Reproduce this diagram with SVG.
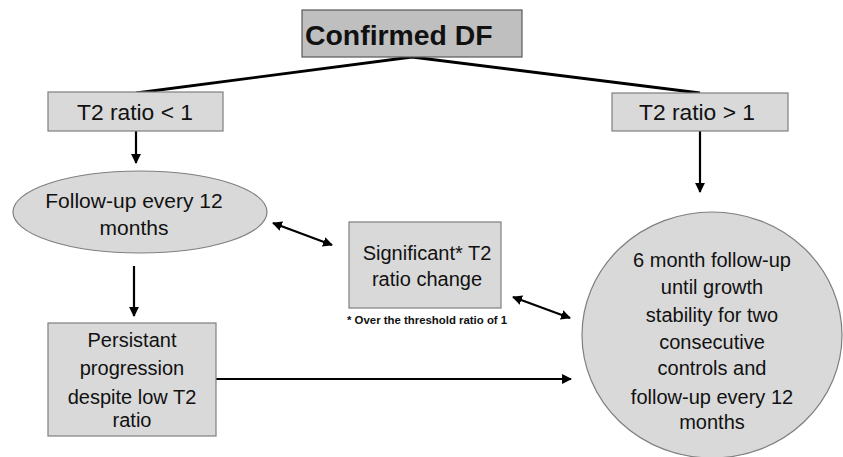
<svg xmlns="http://www.w3.org/2000/svg" width="843" height="457" viewBox="0 0 843 457">
<style>
.box{fill:#d9d9d9;stroke:#7f7f7f;stroke-width:1.2}
.dark{fill:#bfbfbf;stroke:#595959;stroke-width:1.2}
.t{font-family:"Liberation Sans",Arial,sans-serif;font-size:20px;fill:#111;text-anchor:middle}
.c{fill:none;stroke:#000;stroke-width:2.2}
.top{fill:none;stroke:#000;stroke-width:2.8}
</style>
<defs>
<marker id="ah" viewBox="0 0 10 10" refX="9" refY="5" markerWidth="4.5" markerHeight="4.5" orient="auto-start-reverse">
<path d="M0,0 L10,5 L0,10 z" fill="#000"/>
</marker>
</defs>
<rect width="843" height="457" fill="#fff"/>
<g id="connectors">
<polyline class="top" points="136,93 412,57 700,93"/>
<line class="c" x1="136" y1="131" x2="136" y2="163" marker-end="url(#ah)"/>
<line class="c" x1="700" y1="131" x2="700" y2="192" marker-end="url(#ah)"/>
<line class="c" x1="134" y1="266" x2="134" y2="316" marker-end="url(#ah)"/>
<line class="c" x1="273" y1="223" x2="332" y2="245" marker-start="url(#ah)" marker-end="url(#ah)"/>
<line class="c" x1="513" y1="297" x2="570" y2="318" marker-start="url(#ah)" marker-end="url(#ah)"/>
<line class="c" x1="216" y1="379" x2="571" y2="379" marker-end="url(#ah)"/>
</g>
<g id="confirmed">
<rect class="dark" x="302" y="10" width="220" height="47"/>
<text x="305" y="45" style="font-family:'Liberation Sans',Arial,sans-serif;font-size:28.4px;font-weight:bold;fill:#111">Confirmed DF</text>
</g>
<g id="t2low">
<rect class="box" x="48" y="92" width="175" height="39"/>
<text class="t" x="135" y="120" style="font-size:22.8px">T2 ratio &lt; 1</text>
</g>
<g id="t2high">
<rect class="box" x="612" y="93" width="176" height="38"/>
<text class="t" x="697" y="120" style="font-size:22.8px">T2 ratio &gt; 1</text>
</g>
<g id="followup12">
<ellipse class="box" cx="140" cy="212" rx="127" ry="41"/>
<text class="t" x="134" y="208" style="font-size:21px">Follow-up every 12</text>
<text class="t" x="134" y="235" style="font-size:21px">months</text>
</g>
<g id="significant">
<rect class="box" x="349" y="222" width="152" height="86"/>
<text class="t" x="427" y="260">Significant* T2</text>
<text class="t" x="427" y="286">ratio change</text>
<text x="347" y="324" style="font-family:'Liberation Sans',Arial,sans-serif;font-size:11.4px;font-weight:bold;fill:#111">* Over the threshold ratio of 1</text>
</g>
<g id="persistant">
<rect class="box" x="48" y="323" width="168" height="113"/>
<text class="t" x="132" y="347">Persistant</text>
<text class="t" x="132" y="375">progression</text>
<text class="t" x="132" y="404">despite low T2</text>
<text class="t" x="132" y="427">ratio</text>
</g>
<g id="sixmonth">
<ellipse class="box" cx="712" cy="335" rx="130" ry="123"/>
<text class="t" x="712" y="267">6 month follow-up</text>
<text class="t" x="712" y="294">until growth</text>
<text class="t" x="712" y="322">stability for two</text>
<text class="t" x="712" y="349">consecutive</text>
<text class="t" x="712" y="375">controls and</text>
<text class="t" x="712" y="404">follow-up every 12</text>
<text class="t" x="712" y="429">months</text>
</g>
</svg>
